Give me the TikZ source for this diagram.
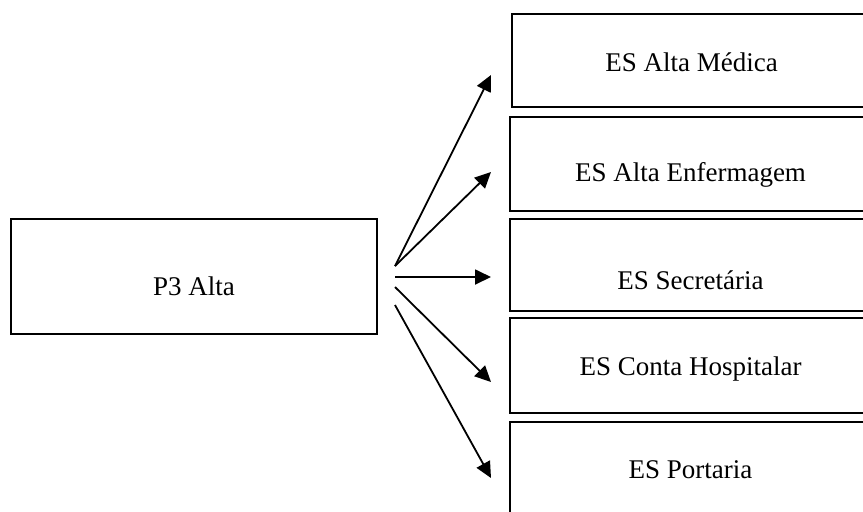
\documentclass[tikz,border=0pt]{standalone}
\usepackage{fontspec}
\setmainfont{Liberation Serif}
\usepackage{tikz}
\usetikzlibrary{shapes, arrows.meta}

% push a box text down without moving the box
\newcommand{\dropby}[2]{\raisebox{-#1}[\height][\depth]{#2}}

\tikzset{
    esbox/.style={draw, line width=1pt, rectangle, inner sep=0pt, minimum width=180.5pt},
    altaarrow/.style={line width=0.9pt, -{Triangle[length=8pt,width=7.5pt]}}
}

\begin{document}
\begin{tikzpicture}[x=0.5pt,y=0.5pt,yscale=-1,xscale=1,font=\fontsize{13.5}{16}\selectfont]
    \clip (0,0) rectangle (863,511);

    % left box
    \node [esbox, minimum width=183pt, minimum height=57.5pt] (alta) at (194,276.5) {\dropby{4.75pt}{P3 Alta}};

    % right boxes
    \node [esbox, minimum width=179.5pt, minimum height=46.5pt] (medica) at (691.5,60.5) {\dropby{1pt}{ES Alta Médica}};
    \node [esbox, minimum height=47pt] (enfermagem) at (690.5,164) {\dropby{5.2pt}{ES Alta Enfermagem}};
    \node [esbox, minimum height=46pt] (secretaria) at (690.5,265) {\dropby{7.5pt}{ES Secretária}};
    \node [esbox, minimum height=47.5pt] (conta) at (690.5,365.5) {\dropby{1.85pt}{ES Conta Hospitalar}};
    \node [esbox, minimum height=48pt] (portaria) at (690.5,470) {ES Portaria};

    % free arrow ends
    \coordinate (fromA) at (395,266);
    \coordinate (fromB) at (395,277);
    \coordinate (fromC) at (395,287);
    \coordinate (fromD) at (395,305);
    \coordinate (toMedica) at (491,75);
    \coordinate (toEnfermagem) at (491,172);
    \coordinate (toSecretaria) at (491,277);
    \coordinate (toConta) at (491,382);
    \coordinate (toPortaria) at (491,478);

    % arrows
    \draw [altaarrow] (fromA) -- (toMedica);
    \draw [altaarrow] (fromA) -- (toEnfermagem);
    \draw [altaarrow] (fromB) -- (toSecretaria);
    \draw [altaarrow] (fromC) -- (toConta);
    \draw [altaarrow] (fromD) -- (toPortaria);
\end{tikzpicture}
\end{document}
